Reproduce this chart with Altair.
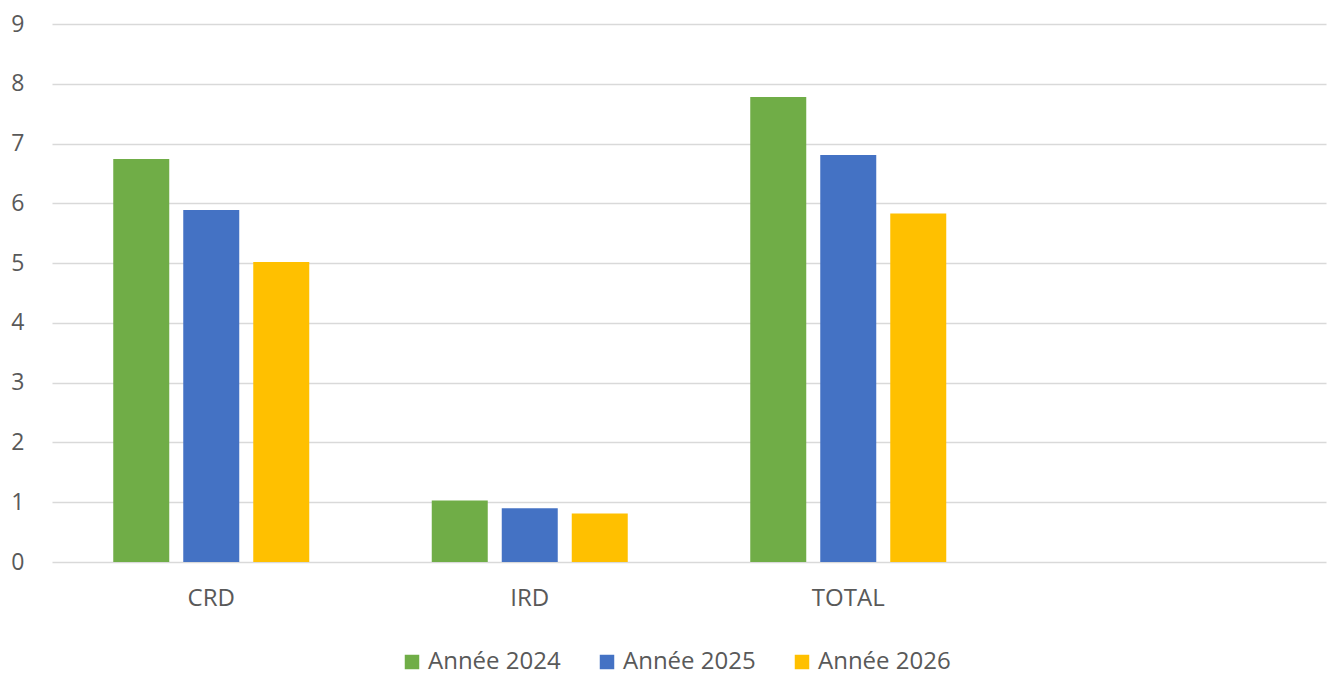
import altair as alt
import pandas as pd

categories = ["CRD", "IRD", "TOTAL"]
x_domain = ["CRD", "IRD", "TOTAL", ""]  # trailing empty slot keeps room on the right
series = ["Année 2024", "Année 2025", "Année 2026"]
values_2024 = [6.74, 1.03, 7.78]
values_2025 = [5.89, 0.90, 6.81]
values_2026 = [5.02, 0.81, 5.83]
colors = ["#70AD47", "#4472C4", "#FFC000"]
y_ticks = [0, 1, 2, 3, 4, 5, 6, 7, 8, 9]

rows = []
for name, vals in zip(series, [values_2024, values_2025, values_2026]):
    for cat, v in zip(categories, vals):
        rows.append({"Catégorie": cat, "Série": name, "Valeur": v})
df = pd.DataFrame(rows)

FONT = "Open Sans"
TEXT = "#595959"

chart = (
    alt.Chart(df)
    .mark_bar()
    .encode(
        x=alt.X(
            "Catégorie:N",
            scale=alt.Scale(domain=x_domain, paddingInner=0, paddingOuter=0),
            axis=alt.Axis(
                title=None, labelAngle=0, ticks=False, domain=False, grid=False,
                labelFontSize=24, labelColor=TEXT, labelFont=FONT, labelPadding=24,
            ),
        ),
        xOffset=alt.XOffset(
            "Série:N",
            scale=alt.Scale(domain=series, paddingInner=0.2, paddingOuter=0.875),
        ),
        y=alt.Y(
            "Valeur:Q",
            scale=alt.Scale(domain=[0, 9], nice=False),
            axis=alt.Axis(
                title=None, values=y_ticks, ticks=False, domain=False,
                labelFontSize=23, labelColor=TEXT, labelFont=FONT, labelPadding=28,
                gridColor="#D9D9D9", gridWidth=1.5,
            ),
        ),
        color=alt.Color(
            "Série:N",
            scale=alt.Scale(domain=series, range=colors),
            legend=alt.Legend(
                title=None, orient="none", direction="horizontal",
                legendX=348, legendY=626,
                symbolType="square", symbolSize=210, symbolStrokeWidth=0,
                labelFontSize=24, labelColor=TEXT, labelFont=FONT,
                columnPadding=34, labelOffset=4,
            ),
        ),
    )
    .properties(
        width=1274,
        height=538,
        background="white",
        autosize=alt.AutoSizeParams(type="none"),
        padding={"left": 52, "top": 24, "right": 4, "bottom": 113},
    )
    .configure_view(strokeWidth=0, stroke="transparent")
)

chart.save("out.html", embed_options={"renderer": "svg", "actions": False})
